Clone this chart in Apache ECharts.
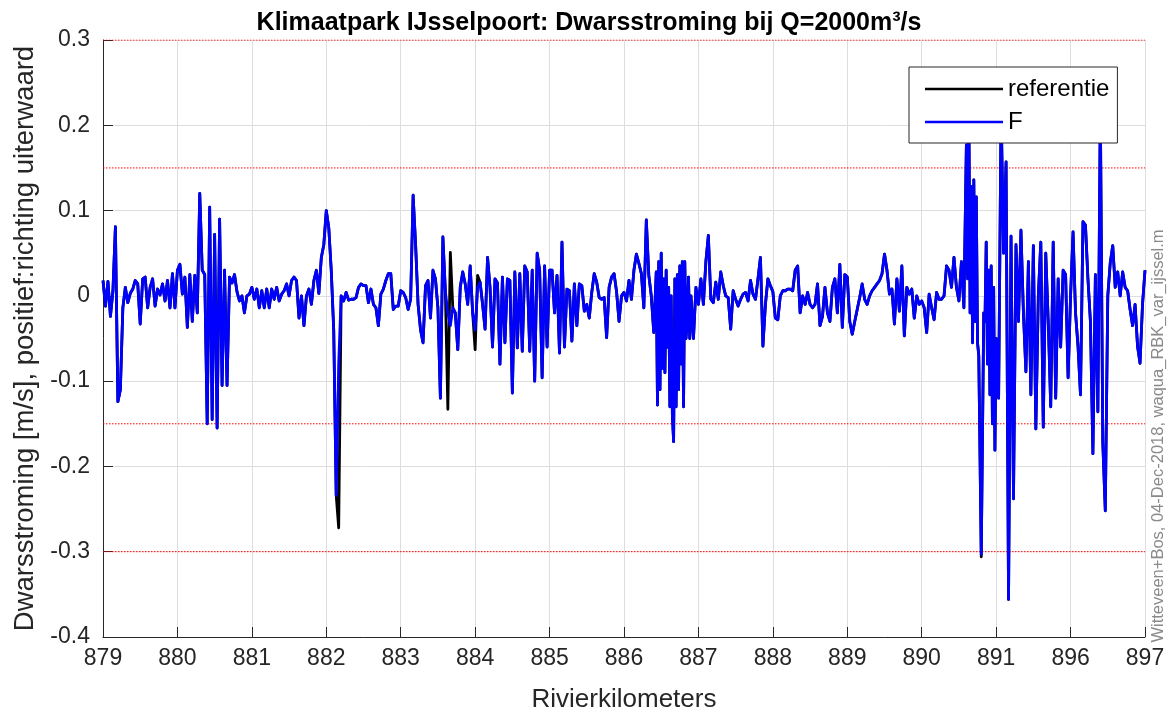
<!DOCTYPE html>
<html>
<head>
<meta charset="utf-8">
<script src="https://cdn.jsdelivr.net/npm/echarts@6/dist/echarts.min.js"></script>
<style>
  html, body { margin: 0; padding: 0; background: #fff; }
  #chart { width: 1174px; height: 718px; }
</style>
</head>
<body>
<div id="chart"></div>
<script>
// Labels of the km ticks along the river axis (one label per tick position)
const tickLabels = ['879', '880', '881', '882', '883', '884', '885', '886', '887', '888', '889', '890', '891', '896', '897'];

// Number of samples between two neighbouring ticks in the main profile
const puntenPerKm = 30;

// Dwarsstroming [m/s] for variant F along the axis (one row per km tick interval)
const dwarsF = [
  // 879 - 880
  0.018, -0.012, 0.017, -0.024, 0.006, 0.081, -0.124, -0.110, -0.014, 0.010,
  -0.008, 0.003, 0.008, 0.018, 0.014, -0.033, 0.020, 0.022, -0.014, 0.010,
  0.020, -0.012, 0.008, 0.001, 0.014, -0.006, 0.018, -0.014, 0.026, -0.014,
  // 880 - 881
  0.030, 0.037, 0.002, 0.022, -0.037, 0.025, -0.030, 0.024, -0.020, 0.120,
  0.030, 0.025, -0.150, 0.104, -0.145, 0.072, -0.155, 0.090, -0.105, 0.030,
  -0.105, 0.022, 0.015, 0.025, 0.005, -0.006, 0.000, -0.020, 0.000, 0.002,
  // 881 - 882
  0.010, -0.004, 0.008, -0.014, 0.006, -0.014, 0.008, -0.014, 0.008, -0.004,
  0.010, -0.006, 0.002, 0.006, 0.014, 0.000, 0.018, 0.022, 0.018, -0.026,
  0.000, -0.035, 0.000, 0.008, -0.010, 0.018, 0.030, 0.003, 0.045, 0.060,
  // 882 - 883
  0.100, 0.080, 0.030, -0.040, -0.234, -0.080, 0.000, -0.006, 0.004, -0.005,
  -0.004, -0.004, -0.002, 0.010, 0.014, 0.012, 0.012, -0.008, 0.008, -0.010,
  -0.014, -0.035, 0.002, 0.008, 0.018, 0.026, 0.026, -0.016, -0.012, -0.012,
  // 883 - 884
  0.006, 0.004, -0.002, -0.016, -0.004, 0.118, 0.060, -0.010, -0.040, -0.055,
  0.012, 0.018, -0.026, 0.030, 0.020, -0.014, -0.120, 0.069, 0.005, -0.020,
  -0.035, -0.014, -0.020, -0.063, 0.010, 0.028, 0.014, -0.010, 0.035, -0.020,
  // 884 - 885
  -0.040, 0.010, 0.016, -0.010, -0.039, 0.045, 0.010, -0.060, 0.020, 0.015,
  -0.080, 0.022, -0.055, 0.020, 0.018, -0.114, 0.028, -0.061, 0.026, -0.065,
  0.035, 0.028, -0.065, 0.030, -0.100, 0.050, 0.030, -0.096, 0.035, -0.060,
  // 885 - 886
  0.030, 0.030, -0.020, 0.024, -0.067, 0.063, -0.060, 0.008, 0.006, -0.053,
  0.014, -0.035, 0.014, 0.012, -0.018, -0.010, -0.026, 0.004, 0.026, 0.016,
  -0.002, -0.004, -0.002, -0.049, 0.010, 0.022, 0.026, 0.005, -0.030, 0.000,
  // 886 - 887
  0.004, -0.006, 0.018, -0.004, 0.030, 0.049, 0.038, 0.026, -0.014, 0.089,
  0.024, 0.000, -0.043, 0.028, -0.128, 0.049, -0.090, 0.030, -0.130, 0.025,
  -0.171, 0.022, -0.110, 0.040, -0.130, 0.040, -0.080, 0.000, -0.050, 0.010,
  // 887 - 888
  -0.010, 0.020, -0.010, 0.040, 0.071, -0.004, -0.008, 0.016, -0.004, 0.028,
  0.012, 0.000, -0.002, -0.039, 0.006, -0.004, -0.012, -0.004, 0.002, 0.004,
  -0.006, 0.018, 0.002, -0.004, 0.020, 0.045, -0.059, -0.010, 0.020, 0.012,
  // 888 - 889
  0.005, -0.026, -0.028, 0.000, 0.006, 0.006, 0.008, 0.008, 0.006, 0.030,
  0.035, -0.020, 0.000, -0.010, 0.004, -0.010, -0.014, -0.010, 0.014, -0.035,
  -0.024, 0.010, -0.020, -0.030, 0.010, 0.020, -0.020, 0.037, -0.037, 0.025,
  // 889 - 890
  0.022, -0.030, -0.045, -0.030, -0.016, -0.002, 0.014, -0.004, -0.010, 0.000,
  0.006, 0.010, 0.014, 0.018, 0.026, 0.049, 0.030, 0.002, 0.008, -0.033,
  0.020, -0.018, 0.035, -0.047, 0.010, 0.002, 0.008, -0.026, 0.000, -0.010,
  // 890 - 891
  -0.006, -0.014, -0.043, 0.002, -0.014, -0.028, 0.004, -0.004, -0.004, 0.000,
  0.035, 0.030, 0.010, 0.045, 0.010, -0.006, 0.040, -0.014, 0.177, 0.220,
  0.020, 0.136, -0.055, -0.070, -0.303, -0.020, 0.063, -0.140, 0.040, -0.181,
  // 891 - 896
  -0.050, -0.120, 0.220, 0.050, 0.157, -0.356, 0.070, -0.238, 0.060, -0.030,
  0.077, -0.020, -0.089, 0.040, -0.116, 0.059, -0.156, 0.000, 0.063, -0.154,
  0.050, -0.030, -0.130, 0.063, -0.120, 0.020, -0.060, 0.030, 0.025, -0.096,
  // 896 - 897
  0.000, 0.075, -0.020, -0.059, -0.116, 0.087, 0.083, 0.020, -0.030, -0.185,
  0.025, -0.136, 0.220, -0.173, -0.252, 0.000, 0.039, 0.059, 0.010, 0.028,
  0.000, 0.028, 0.010, 0.006, -0.016, -0.035, -0.010, -0.059, -0.079, -0.010,
  0.030
];

// Reaches with rapidly alternating flow, sampled twice as densely.
// vanaf: first sample position in 1/60 tick units; waarden: values [m/s]
const fijnBlok886 = {
  vanaf: 447,
  waarden: [
    -0.128, 0.040, -0.110, 0.050, -0.085, 0.020, -0.090, 0.030, -0.060, 0.010,
    -0.130, 0.000, -0.140, -0.171, 0.020, -0.130, 0.025, -0.110, 0.035, -0.080,
    0.040, -0.130, 0.040, -0.050, -0.030, 0.022, -0.050
  ]
};
const fijnBlok8906 = {
  vanaf: 696,
  waarden: [0.177, 0.020, 0.220, -0.020, 0.128, -0.055, 0.136, -0.030, 0.116, -0.055]
};
const fijnBlok8909 = {
  vanaf: 711,
  waarden: [-0.030, 0.063, -0.080, 0.030, -0.116, 0.035, -0.150, 0.010, -0.181, -0.050]
};
const fijnStep = 60;

// Samples of the main profile where the reference situation differs from F: [sample index, value]
const referentieAfwijking = [
  [95, -0.272],
  [139, -0.133], [140, 0.051],
  [150, -0.063], [151, 0.024],
  [354, -0.306]
];

// Dotted threshold levels [m/s]
const grenswaarden = [0.3, 0.15, -0.15, -0.3];

const FONT = '"Liberation Sans", Arial, Helvetica, sans-serif';
const AXIS_COLOR = '#262626';
const X_MAX = tickLabels.length - 1;

// Combine the main profile with the densely sampled reaches
function buildProfile(values) {
  const blocks = [fijnBlok886, fijnBlok8906, fijnBlok8909];
  let pts = values.map((v, i) => [i / puntenPerKm, v]);
  blocks.forEach((b) => {
    const x0 = b.vanaf / fijnStep;
    const x1 = (b.vanaf + b.waarden.length - 1) / fijnStep;
    pts = pts.filter(([x]) => x < x0 - 1e-9 || x > x1 + 1e-9);
    b.waarden.forEach((v, k) => pts.push([(b.vanaf + k) / fijnStep, v]));
  });
  pts.sort((a, b) => a[0] - b[0]);
  return pts;
}

const fData = buildProfile(dwarsF);
const refValues = dwarsF.slice();
referentieAfwijking.forEach(([i, v]) => { refValues[i] = v; });
const refData = buildProfile(refValues);

// One dotted red line per threshold level, spanning the full axis
const grensSeries = grenswaarden.map((g) => ({
  name: 'grens ' + g,
  type: 'line',
  data: [[0, g], [X_MAX, g]],
  symbol: 'none',
  silent: true,
  color: '#ff0000',
  lineStyle: { color: '#ff0000', type: [1.5, 1.5], width: 1 },
  z: 1
}));

const chart = echarts.init(document.getElementById('chart'), null, { renderer: 'canvas' });

chart.setOption({
  animation: false,
  backgroundColor: '#ffffff',
  textStyle: { fontFamily: FONT },
  title: {
    text: 'Klimaatpark IJsselpoort: Dwarsstroming bij Q=2000m³/s',
    left: 584,
    top: 6,
    textAlign: 'center',
    textStyle: { fontFamily: FONT, fontSize: 25, fontWeight: 'bold', color: '#000' }
  },
  grid: { left: 103, right: 29, top: 40, bottom: 80, containLabel: false },
  legend: {
    orient: 'vertical',
    left: 909,
    top: 67,
    padding: [10, 8, 9, 16],
    itemGap: 9,
    itemWidth: 78,
    itemHeight: 2.5,
    backgroundColor: '#ffffff',
    borderColor: AXIS_COLOR,
    borderWidth: 1,
    borderRadius: 0,
    data: [
      { name: 'referentie', icon: 'rect' },
      { name: 'F', icon: 'rect' }
    ],
    textStyle: { fontFamily: FONT, fontSize: 24, color: '#000' }
  },
  xAxis: {
    type: 'value',
    min: 0,
    max: X_MAX,
    interval: 1,
    name: 'Rivierkilometers',
    nameLocation: 'middle',
    nameGap: 50,
    nameTextStyle: { fontFamily: FONT, fontSize: 26, color: AXIS_COLOR },
    axisLine: { onZero: false, lineStyle: { color: AXIS_COLOR, width: 1 } },
    axisTick: { inside: true, length: 10, lineStyle: { color: AXIS_COLOR } },
    axisLabel: {
      margin: 10,
      fontSize: 23,
      color: AXIS_COLOR,
      fontFamily: FONT,
      formatter: (v) => tickLabels[Math.round(v)]
    },
    splitLine: { show: true, lineStyle: { color: '#dedede', width: 1 } }
  },
  yAxis: {
    type: 'value',
    min: -0.4,
    max: 0.3,
    interval: 0.1,
    name: 'Dwarsstroming [m/s], positief:richting uiterwaard',
    nameLocation: 'middle',
    nameGap: 54,
    nameTextStyle: { fontFamily: FONT, fontSize: 27.5, color: AXIS_COLOR },
    axisLine: { show: true, lineStyle: { color: AXIS_COLOR, width: 1 } },
    axisTick: { show: true, inside: true, length: 10, lineStyle: { color: AXIS_COLOR } },
    axisLabel: {
      margin: 13,
      fontSize: 23,
      color: AXIS_COLOR,
      fontFamily: FONT,
      formatter: (v) => String(Math.round(v * 10) / 10 || 0)
    },
    splitLine: { show: true, lineStyle: { color: '#dedede', width: 1 } }
  },
  graphic: [{
    type: 'text',
    x: 1158,
    y: 436,
    rotation: Math.PI / 2,
    style: {
      text: 'Witteveen+Bos, 04-Dec-2018, waqua_RBK_var_ijssel.m',
      fill: '#8a8a8a',
      font: '16.5px ' + FONT,
      align: 'center',
      verticalAlign: 'middle'
    }
  }],
  series: grensSeries.concat([
    {
      name: 'referentie',
      type: 'line',
      data: refData,
      symbol: 'none',
      sampling: null,
      color: '#000000',
      lineStyle: { color: '#000000', width: 2.8, join: 'round' },
      z: 2
    },
    {
      name: 'F',
      type: 'line',
      data: fData,
      symbol: 'none',
      sampling: null,
      color: '#0000ff',
      lineStyle: { color: '#0000ff', width: 2.8, join: 'round' },
      z: 3
    }
  ])
});
</script>
</body>
</html>
